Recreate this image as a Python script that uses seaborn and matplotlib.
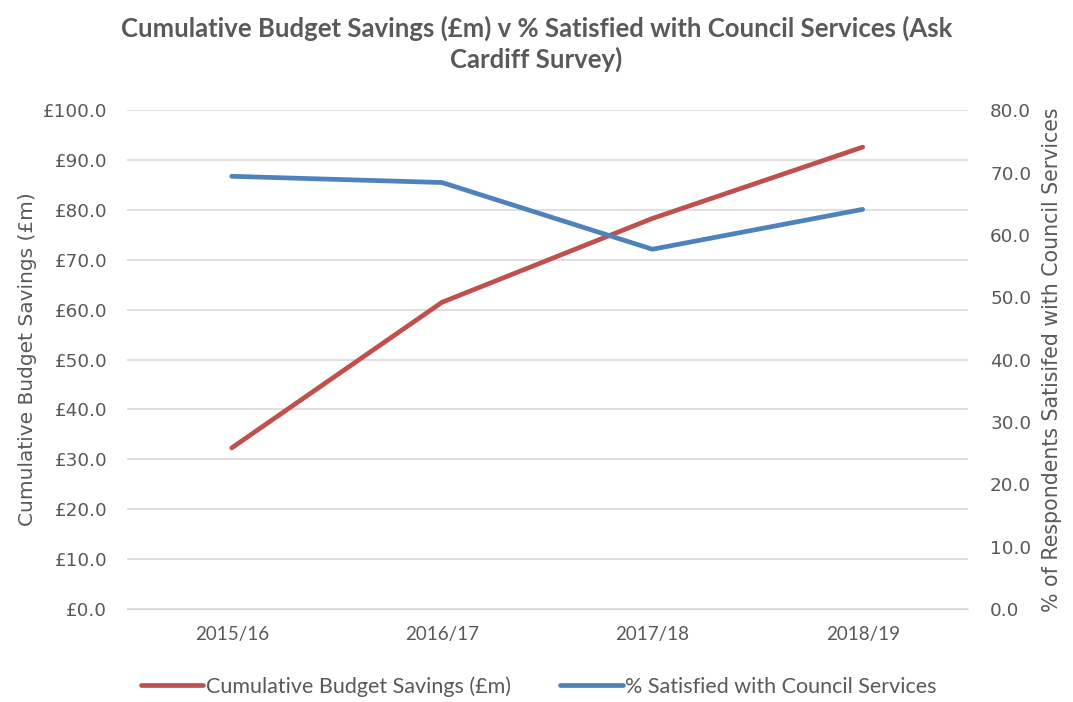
import seaborn as sns
import matplotlib.pyplot as plt
import pandas as pd
from matplotlib.lines import Line2D

years = ["2015/16", "2016/17", "2017/18", "2018/19"]
savings = [32.3, 61.5, 78.3, 92.6]
satisfied = [69.4, 68.4, 57.7, 64.1]

sns.set_style("white")
plt.rcParams['font.family'] = ['Lato', 'DejaVu Sans']
grey = '#595959'
red = '#C0504D'
blue = '#4F81BD'

df = pd.DataFrame({"year": years, "savings": savings, "satisfied": satisfied})
df["pos"] = range(len(years))

fig = plt.figure(figsize=(10.73, 7.02), dpi=100)
ax1 = fig.add_axes([0.118, 0.1325, 0.784, 0.7105])
ax2 = ax1.twinx()

sns.lineplot(data=df, x="pos", y="savings", ax=ax1, color=red, lw=3.4, sort=False)
sns.lineplot(data=df, x="pos", y="satisfied", ax=ax2, color=blue, lw=3.4, sort=False)

ax1.set_xlim(-0.5, 3.5)
ax1.set_ylim(0, 100)
ax2.set_ylim(0, 80)
ax1.set_yticks(range(0, 101, 10))
ax1.set_yticklabels([f"£{v:.1f}" for v in range(0, 101, 10)])
ax2.set_yticks(range(0, 81, 10))
ax2.set_yticklabels([f"{v:.1f}" for v in range(0, 81, 10)])
ax1.set_xticks(df["pos"])
ax1.set_xticklabels(years)

ax1.yaxis.grid(True, color='#d9d9d9', lw=1.2)
ax1.set_axisbelow(True)
for a in (ax1, ax2):
    for s in a.spines.values():
        s.set_visible(False)
    a.tick_params(axis='y', length=0, labelsize=13.2, labelcolor=grey, pad=14)
    for t in a.get_yticklabels():
        t.set_family('DejaVu Sans')
ax2.tick_params(axis='y', pad=16)
ax1.tick_params(axis='x', length=0, labelsize=13.5, labelcolor=grey, pad=12)
ax1.spines['bottom'].set_visible(True)
ax1.spines['bottom'].set_color('#d9d9d9')

ax1.set_xlabel(None)
ax1.set_ylabel("Cumulative Budget Savings (£m)", fontsize=14.5, color=grey,
               labelpad=4, family='DejaVu Sans')
ax2.set_ylabel("% of Respondents Satisifed with Council Services", fontsize=14.8, color=grey,
               labelpad=8, family='DejaVu Sans')

fig.suptitle("Cumulative Budget Savings (£m) v % Satisfied with Council Services (Ask\nCardiff Survey)",
             fontsize=18.5, fontweight='bold', color=grey, y=0.978, linespacing=1.3)

handles = [Line2D([], [], color=red, lw=3.4), Line2D([], [], color=blue, lw=3.4)]
fig.legend(handles, ["Cumulative Budget Savings (£m)", "% Satisfied with Council Services"],
           loc='lower center', bbox_to_anchor=(0.502, -0.02), ncol=2, frameon=False,
           fontsize=15.5, labelcolor=grey, handlelength=2.9, handletextpad=0.1, columnspacing=2.3)

fig.savefig("out.png", dpi=100)
